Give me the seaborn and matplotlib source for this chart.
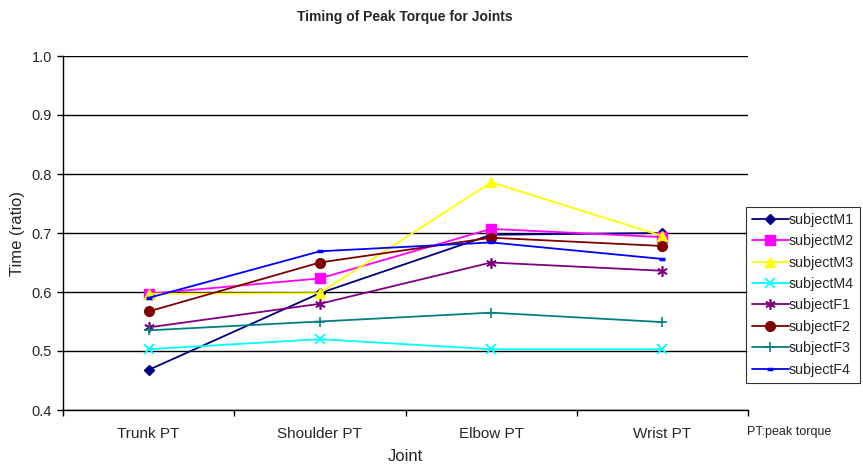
import matplotlib
matplotlib.use("Agg")
import matplotlib.pyplot as plt
import seaborn as sns
import pandas as pd

joints = ["Trunk PT", "Shoulder PT", "Elbow PT", "Wrist PT"]
subjectM1 = [0.468, 0.598, 0.697, 0.700]
subjectM2 = [0.597, 0.623, 0.707, 0.693]
subjectM3 = [0.597, 0.598, 0.786, 0.695]
subjectM4 = [0.503, 0.520, 0.503, 0.503]
subjectF1 = [0.540, 0.580, 0.650, 0.636]
subjectF2 = [0.567, 0.650, 0.692, 0.678]
subjectF3 = [0.535, 0.550, 0.565, 0.549]
subjectF4 = [0.590, 0.669, 0.684, 0.656]

series = {
    "subjectM1": subjectM1, "subjectM2": subjectM2, "subjectM3": subjectM3,
    "subjectM4": subjectM4, "subjectF1": subjectF1, "subjectF2": subjectF2,
    "subjectF3": subjectF3, "subjectF4": subjectF4,
}
styles = {
    "subjectM1": ("#000080", "D", 5.5, 1.0),
    "subjectM2": ("#FF00FF", "s", 6.5, 1.0),
    "subjectM3": ("#FFFF00", "^", 7.5, 1.0),
    "subjectM4": ("#00FFFF", "x", 6.5, 1.3),
    "subjectF1": ("#800080", (6, 2, 0), 7.5, 1.2),
    "subjectF2": ("#800000", "o", 7.0, 1.0),
    "subjectF3": ("#008080", "+", 7.0, 1.2),
    "subjectF4": ("#0000FF", "_", 5.0, 2.5),
}

rows = []
for name, vals in series.items():
    for j, v in zip(joints, vals):
        rows.append({"Joint": j, "Time": v, "Subject": name})
df = pd.DataFrame(rows)

sns.set_theme(style="white")
plt.rcParams["font.family"] = ["Liberation Sans", "DejaVu Sans"]

fig = plt.figure(figsize=(8.63, 4.72), dpi=100)
ax = fig.add_axes([63 / 863, 1 - 410 / 472, (748 - 63) / 863, (410 - 56) / 472])

for name in series:
    color, marker, ms, mew = styles[name]
    sub = df[df["Subject"] == name]
    sns.lineplot(data=sub, x="Joint", y="Time", ax=ax, color=color,
                 marker=marker, markersize=ms, markeredgewidth=mew,
                 markeredgecolor=color, markerfacecolor=color,
                 linewidth=1.3, label=name, sort=False)

ax.set_xlim(-0.5, 3.5)
ax.set_ylim(0.4, 1.0)
ax.set_yticks([0.4, 0.5, 0.6, 0.7, 0.8, 0.9, 1.0])
ax.set_yticklabels(["0.4", "0.5", "0.6", "0.7", "0.8", "0.9", "1.0"])
ax.set_xticks(range(len(joints)))
ax.set_xticklabels(joints)
ax.set_xticks([-0.5, 0.5, 1.5, 2.5, 3.5], minor=True)
ax.tick_params(axis="x", which="major", length=0, pad=12, labelsize=11)
ax.tick_params(axis="x", which="minor", length=4, width=1, color="black",
               direction="out", bottom=True)
ax.tick_params(axis="y", length=4, width=1, color="black", direction="out",
               left=True, labelsize=10.5, pad=4)

ax.yaxis.grid(True, color="black", linewidth=1.0)
ax.xaxis.grid(False)
for s in ["top", "right"]:
    ax.spines[s].set_visible(False)
for s in ["left", "bottom"]:
    ax.spines[s].set_color("black")
    ax.spines[s].set_linewidth(1.0)
ax.set_axisbelow(True)

ax.set_xlabel("Joint", fontsize=12, labelpad=6)
ax.set_ylabel("Time (ratio)", fontsize=12, labelpad=5)
fig.suptitle("Timing of Peak Torque for Joints", fontsize=10, fontweight="bold",
             y=1 - 17 / 472, va="center", x=405 / 863)

ax.get_legend().remove()
handles, labels = ax.get_legend_handles_labels()
leg = fig.legend(handles, labels, loc="upper left",
                 bbox_to_anchor=(746 / 863, 1 - 207 / 472),
                 frameon=True, fancybox=False, edgecolor="black",
                 fontsize=10.3, handlelength=2.6, handletextpad=0.0,
                 labelspacing=0.52, borderpad=0.4, borderaxespad=0)
leg.get_frame().set_linewidth(0.8)

fig.text(747 / 863, 1 - 432 / 472, "PT:peak torque", fontsize=9, va="center",
         ha="left")

fig.savefig("out.png", dpi=100)
